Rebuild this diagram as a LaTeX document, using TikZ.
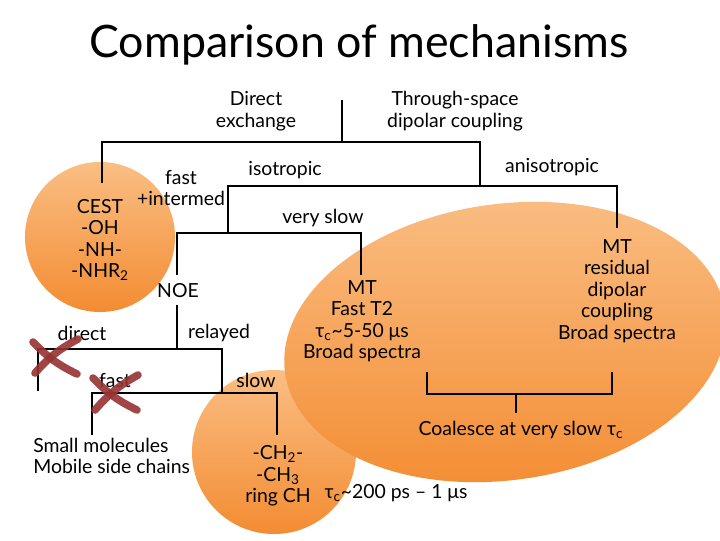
\documentclass[tikz,border=0pt]{standalone}
\usepackage{fontspec}
\setmainfont{Lato}
\definecolor{blobtop}{RGB}{250,190,132}
\definecolor{blobbot}{RGB}{243,140,50}
\definecolor{crossred}{RGB}{150,50,50}

\begin{document}
\begin{tikzpicture}[x=0.025cm,y=-0.025cm]
\tikzstyle{every node}=[font=\fontsize{13.8}{15.3}\selectfont,align=center,inner sep=0pt]
\tikzstyle{br}=[line width=1.6pt]
\tikzstyle{blob}=[top color=blobtop,bottom color=blobbot]
\tikzstyle{cross}=[line width=5.4pt,line cap=round,draw=crossred,opacity=0.9]
\useasboundingbox (0,0) rectangle (720,540);
% orange blobs
\shade[blob] (100,237) circle [radius=1.875cm];
\shade[blob] (274,452) circle [radius=2.05cm];
\shade[blob,rotate around={8:(505,342)}] (505,342) ellipse [x radius=5.55cm,y radius=3.45cm];

\node (T) [anchor=base,font=\fontsize{31.8}{34}\selectfont] at (359,57) {Comparison of mechanisms};

\node (DE) at (256,111) {Direct\\exchange};
\node (TS) at (455,111) {Through-space\\dipolar coupling};
\node (ISO) at (285,170) {isotropic};
\node (ANI) at (552,167) {anisotropic};
\node (FI) at (181,188) {fast\\+intermed};
\node (VS) at (323,218) {very slow};
\node (CEST) at (100,240) {CEST\\-OH\\-NH-\\-NHR\textsubscript{2}};
\node (NOE) at (178,291) {NOE};
\node (MTF) at (362,321) {MT\\Fast T2\\τ\textsubscript{c}\textasciitilde5-50 μs\\Broad spectra};
\node (MTR) at (617,291) {MT\\residual\\dipolar\\coupling\\Broad spectra};
\node (DIR) at (82,333) {direct};
\node (REL) at (219,333) {relayed};
\node (FST) at (115,381) {fast};
\node (SLW) at (256,380) {slow};
\node (SM) [align=left,anchor=west] at (33,456) {Small molecules\\Mobile side chains};
\node (CH) at (278,476) {-CH\textsubscript{2}-\\-CH\textsubscript{3}\\ring CH};
\node (COA) at (521,430) {Coalesce at very slow τ\textsubscript{c}};
\node (TC) at (396,493) {τ\textsubscript{c}\textasciitilde200 ps – 1 μs};

% tree
\coordinate (R0) at (342,100);
\coordinate (R1) at (342,142);
\coordinate (CD) at (102,183);
\coordinate (DT) at (480,186);
\coordinate (AD) at (617,228);
\coordinate (FT) at (228,233);
\coordinate (ND) at (177,275);
\coordinate (VD) at (361,275);
\draw[br] (R0) -- (R1);
\draw[br] (CD) |- (R1) -| (DT);
\draw[br] (FT) |- (DT) -| (AD);
\draw[br] (ND) |- (FT) -| (VD);

\coordinate (N0) at (177,305);
\coordinate (N1) at (177,349);
\coordinate (DL) at (38,391);
\coordinate (RL) at (222,393);
\coordinate (FL) at (92,435);
\coordinate (SL) at (277,435);
\draw[br] (N0) -- (N1);
\draw[br] (DL) |- (N1) -| (RL);
\draw[br] (FL) |- (RL) -| (SL);

\coordinate (BL) at (427,372);
\coordinate (BR) at (612,372);
\coordinate (BM) at (516,394);
\coordinate (BS) at (516,413);
\draw[br] (BL) |- (BM) -| (BR);
\draw[br] (BM) -- (BS);

% crossed out
\draw[cross] (33,342) to[bend right=10] (77,374);
\draw[cross] (35,373) to[bend left=10] (78,339);
\draw[cross] (93,378) to[bend right=10] (137,410);
\draw[cross] (95,410) to[bend left=10] (138,375);
\end{tikzpicture}
\end{document}
